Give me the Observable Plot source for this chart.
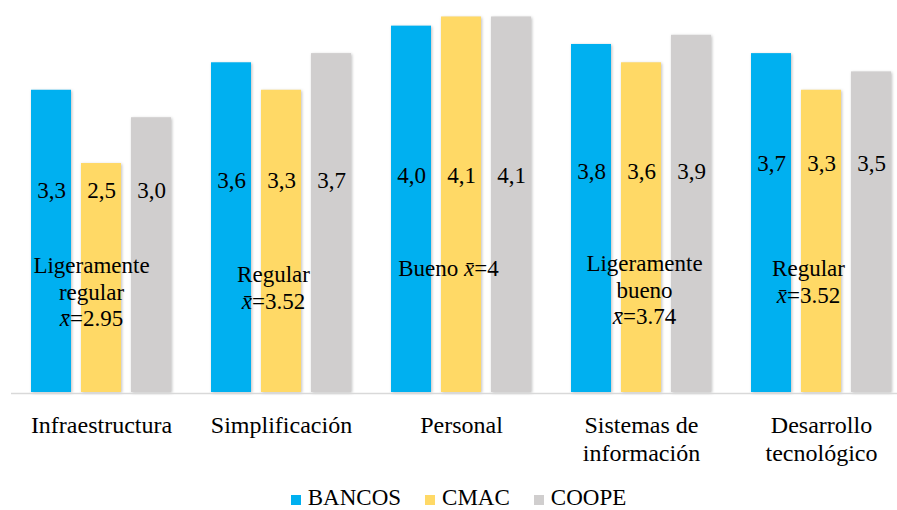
<!DOCTYPE html>
<html>
<head>
<meta charset="utf-8">
<script src="https://cdn.jsdelivr.net/npm/d3@7"></script>
<script src="https://cdn.jsdelivr.net/npm/@observablehq/plot@0.6"></script>
<style>
  g[aria-label="bar"] rect { filter: drop-shadow(1.5px 1px 1.5px rgba(0, 0, 0, 0.25)); }
  .legend { position: absolute; left: 0; top: 486px; width: 897px; display: flex; justify-content: center;
            padding-left: 20px; box-sizing: border-box; font-family: 'Times New Roman', 'Liberation Serif', Tinos, serif;
            font-size: 23px; line-height: 24px; color: #000; }
  .legend .item { margin: 0 12px; white-space: nowrap; }
  .legend .swatch { display: inline-block; width: 10px; height: 10px; margin-right: 7px; }
</style>
</head>
<body style="margin:0;background:#fff;font-family:'Times New Roman','Liberation Serif',Tinos,serif">
<div id="chart" style="position:relative;width:897px;height:510px;overflow:hidden"></div>
<script>
// Evaluation dimensions (groups) and the three institution types
const categories = ["Infraestructura", "Simplificación", "Personal", "Sistemas de información", "Desarrollo tecnológico"];
const categoryLabels = ["Infraestructura", "Simplificación", "Personal", "Sistemas de\ninformación", "Desarrollo\ntecnológico"];
const series = ["BANCOS", "CMAC", "COOPE"];
const colors = ["#00B0F0", "#FFD966", "#D0CECE"];

// Average scores per dimension
const bancos = [3.3, 3.6, 4.0, 3.8, 3.7];
const cmac   = [2.5, 3.3, 4.1, 3.6, 3.3];
const coope  = [3.0, 3.7, 4.1, 3.9, 3.5];

// Overall rating and mean for each dimension
const ratings = ["Ligeramente\nregular", "Regular", "Bueno", "Ligeramente\nbueno", "Regular"];
const means = [2.95, 3.52, 4, 3.74, 3.52];

const rows = categories.flatMap((c, i) =>
  series.map((s, j) => ({category: c, series: s, value: [bancos, cmac, coope][j][i]}))
);

const fmtValue = (v) => d3.format(".1f")(v).replace(".", ",");
const serif = "'Times New Roman', 'Liberation Serif', Tinos, serif";

// Layout of the in-bar text per group
const valueTop = [181, 171, 166, 162, 154];
const noteLayout = [
  {dx: -10, top: 253, sep: "\n"},
  {dx: -8,  top: 262, sep: "\n"},
  {dx: -13, top: 256, sep: " "},
  {dx: 3,   top: 251, sep: "\n"},
  {dx: -13, top: 256, sep: "\n"}
];

const valueMarks = categories.map((c, i) =>
  Plot.text(rows.filter((r) => r.category === c), {
    fx: "category", x: "series", text: (d) => fmtValue(d.value),
    frameAnchor: "top", lineAnchor: "top", dy: valueTop[i],
    fontSize: 23, fontFamily: serif, fill: "#000"
  })
);

const noteMarks = categories.map((c, i) =>
  Plot.text([{category: c, text: ratings[i] + noteLayout[i].sep + "x\u0304=" + means[i]}], {
    fx: "category", text: "text", frameAnchor: "top", lineAnchor: "top",
    dx: noteLayout[i].dx, dy: noteLayout[i].top, fontSize: 23, lineHeight: 1.17,
    fontFamily: serif, fill: "#000"
  })
);

const chart = Plot.plot({
  width: 897,
  height: 475,
  marginTop: 0,
  marginBottom: 83,
  marginLeft: 26,
  marginRight: 1,
  style: {fontFamily: serif, fontSize: "23px", color: "#000", background: "#fff", overflow: "visible"},
  fx: {domain: categories, paddingInner: 1 / 6, paddingOuter: 0, axis: null, label: null},
  x: {domain: series, paddingInner: 0.2, paddingOuter: 0.1, axis: null, label: null},
  y: {domain: [0, 4.28], axis: null, label: null},
  color: {domain: series, range: colors},
  marks: [
    Plot.barY(rows, {fx: "category", x: "series", y: "value", fill: "series", inset: 0}),
    Plot.ruleY([0], {insetLeft: -15, insetRight: -15, stroke: "#D9D9D9", strokeWidth: 1.5, dy: 1}),
    ...valueMarks,
    ...noteMarks,
    Plot.text(categories, {
      fx: (d) => d, text: (d, i) => categoryLabels[i],
      frameAnchor: "bottom", lineAnchor: "top", dy: 20, fontSize: 24, lineHeight: 1.18,
      fontFamily: serif, fill: "#000"
    })
  ]
});

// Set the sample-mean symbol x̄ in italics
(function italicizeMean(svg) {
  const walker = document.createTreeWalker(svg, NodeFilter.SHOW_TEXT);
  const nodes = [];
  while (walker.nextNode()) if (walker.currentNode.nodeValue.includes("x\u0304")) nodes.push(walker.currentNode);
  for (const node of nodes) {
    const [before, after] = node.nodeValue.split("x\u0304");
    const parent = node.parentNode;
    const em = document.createElementNS("http://www.w3.org/2000/svg", "tspan");
    em.setAttribute("font-style", "italic");
    em.textContent = "x\u0304";
    parent.insertBefore(document.createTextNode(before), node);
    parent.insertBefore(em, node);
    parent.insertBefore(document.createTextNode(after), node);
    parent.removeChild(node);
  }
})(chart);

const root = document.getElementById("chart");
root.appendChild(chart);

const legend = document.createElement("div");
legend.className = "legend";
series.forEach((s, i) => {
  const item = document.createElement("span");
  item.className = "item";
  const sw = document.createElement("span");
  sw.className = "swatch";
  sw.style.background = colors[i];
  item.appendChild(sw);
  item.appendChild(document.createTextNode(s));
  legend.appendChild(item);
});
root.appendChild(legend);
</script>
</body>
</html>
